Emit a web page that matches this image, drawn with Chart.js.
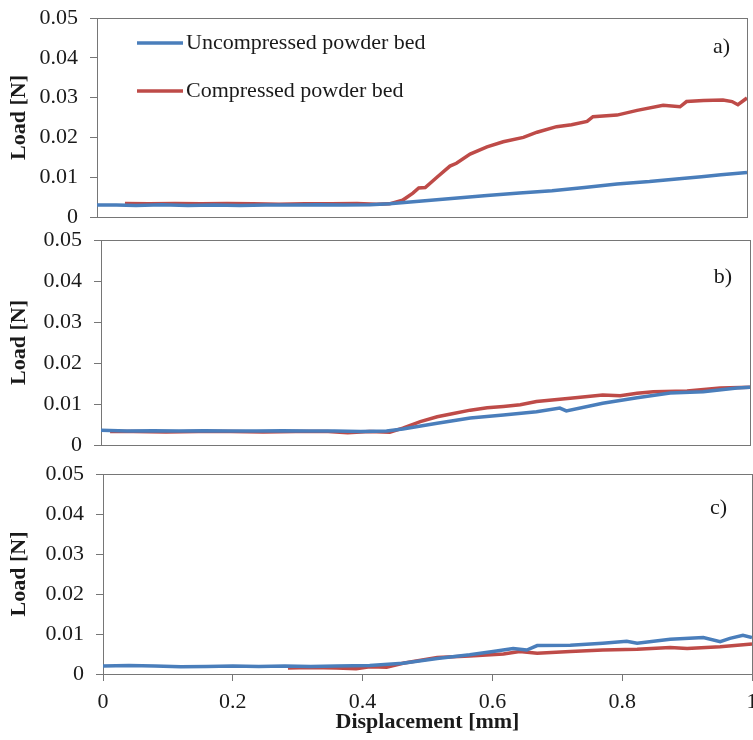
<!DOCTYPE html>
<html>
<head>
<meta charset="utf-8">
<script src="https://cdn.jsdelivr.net/npm/chart.js@4/dist/chart.umd.min.js"></script>
<style>
  body { margin: 0; background: #fff; }
  #wrap { position: relative; width: 753px; height: 740px; overflow: hidden; }
  canvas { position: absolute; left: 0; }
</style>
</head>
<body>
<div id="wrap">
  <canvas id="chartA" width="753" height="232" style="top:0px"></canvas>
  <canvas id="chartB" width="753" height="236" style="top:226px"></canvas>
  <canvas id="chartC" width="753" height="280" style="top:460px"></canvas>
</div>
<script>
// Datos (desplazamiento en mm, carga en N)
const seriesNames = ['Uncompressed powder bed', 'Compressed powder bed'];
const panelLabels = ['a)', 'b)', 'c)'];
const xTicks = [0, 0.2, 0.4, 0.6, 0.8, 1];
const xTickLabels = ['0', '0.2', '0.4', '0.6', '0.8', '1'];
const yTicks = [0, 0.01, 0.02, 0.03, 0.04, 0.05];
const yTickLabels = ['0', '0.01', '0.02', '0.03', '0.04', '0.05'];

// a)
const dispA_unc = [0, 0.03, 0.06, 0.1, 0.14, 0.18, 0.22, 0.26, 0.3, 0.34, 0.38, 0.42, 0.45, 0.5, 0.55, 0.6, 0.65, 0.7, 0.75, 0.8, 0.85, 0.9, 0.93, 0.96, 1.0];
const loadA_unc = [0.0030, 0.0030, 0.0029, 0.0031, 0.0029, 0.0030, 0.0029, 0.0030, 0.0030, 0.0031, 0.0030, 0.0031, 0.0033, 0.0040, 0.0047, 0.0054, 0.0060, 0.0066, 0.0074, 0.0083, 0.0089, 0.0097, 0.0101, 0.0106, 0.0112];
const dispA_comp = [0.043, 0.08, 0.12, 0.16, 0.2, 0.24, 0.28, 0.32, 0.36, 0.4, 0.43, 0.45, 0.47, 0.486, 0.495, 0.505, 0.523, 0.543, 0.553, 0.574, 0.6, 0.625, 0.656, 0.677, 0.707, 0.73, 0.754, 0.763, 0.8, 0.831, 0.871, 0.897, 0.907, 0.933, 0.963, 0.977, 0.986, 1.0];
const loadA_comp = [0.0034, 0.0033, 0.0034, 0.0033, 0.0034, 0.0033, 0.0032, 0.0033, 0.0033, 0.0034, 0.0032, 0.0033, 0.0042, 0.0060, 0.0073, 0.0074, 0.0100, 0.0128, 0.0135, 0.0158, 0.0176, 0.0189, 0.0200, 0.0213, 0.0227, 0.0232, 0.0240, 0.0252, 0.0256, 0.0268, 0.0281, 0.0277, 0.0290, 0.0293, 0.0294, 0.0290, 0.0282, 0.0299];

// b)
const dispB_unc = [0, 0.04, 0.08, 0.12, 0.16, 0.2, 0.24, 0.28, 0.32, 0.36, 0.4, 0.44, 0.465, 0.518, 0.569, 0.62, 0.671, 0.707, 0.717, 0.773, 0.826, 0.877, 0.928, 0.98, 1.0];
const loadB_unc = [0.0036, 0.0034, 0.0035, 0.0034, 0.0035, 0.0034, 0.0034, 0.0035, 0.0034, 0.0034, 0.0033, 0.0034, 0.0039, 0.0053, 0.0066, 0.0073, 0.0081, 0.0090, 0.0083, 0.0102, 0.0115, 0.0127, 0.0130, 0.0139, 0.0141];
const dispB_comp = [0.014, 0.05, 0.1, 0.15, 0.2, 0.25, 0.3, 0.35, 0.38, 0.414, 0.445, 0.465, 0.492, 0.518, 0.543, 0.569, 0.595, 0.62, 0.646, 0.671, 0.723, 0.773, 0.8, 0.826, 0.851, 0.903, 0.954, 1.0];
const loadB_comp = [0.0033, 0.0033, 0.0032, 0.0033, 0.0033, 0.0032, 0.0033, 0.0033, 0.0030, 0.0033, 0.0031, 0.0041, 0.0057, 0.0069, 0.0077, 0.0085, 0.0091, 0.0094, 0.0098, 0.0106, 0.0114, 0.0122, 0.0120, 0.0126, 0.0130, 0.0132, 0.0139, 0.0141];

// c)
const dispC_unc = [0, 0.04, 0.08, 0.12, 0.16, 0.2, 0.24, 0.28, 0.32, 0.36, 0.411, 0.462, 0.515, 0.565, 0.601, 0.632, 0.653, 0.669, 0.72, 0.77, 0.807, 0.823, 0.874, 0.925, 0.951, 0.966, 0.986, 1.0];
const loadC_unc = [0.0020, 0.0021, 0.0020, 0.0018, 0.0019, 0.0020, 0.0019, 0.0020, 0.0019, 0.0020, 0.0021, 0.0027, 0.0039, 0.0048, 0.0056, 0.0064, 0.0060, 0.0071, 0.0072, 0.0077, 0.0082, 0.0077, 0.0087, 0.0091, 0.0081, 0.0089, 0.0097, 0.0091];
const dispC_comp = [0.285, 0.32, 0.36, 0.39, 0.411, 0.437, 0.462, 0.515, 0.565, 0.617, 0.642, 0.669, 0.72, 0.77, 0.823, 0.874, 0.9, 0.951, 1.0];
const loadC_comp = [0.0015, 0.0016, 0.0015, 0.0013, 0.0018, 0.0017, 0.0027, 0.0041, 0.0045, 0.0050, 0.0056, 0.0052, 0.0056, 0.0060, 0.0062, 0.0066, 0.0064, 0.0068, 0.0075];

const BLUE = '#4A7EBB';
const RED = '#BE4B48';
const FRAME = '#767676';
const SERIF = '"Liberation Serif", "Times New Roman", serif';

Chart.defaults.font.family = SERIF;
Chart.defaults.color = '#1a1a1a';

function toPoints(xs, ys) {
    return xs.map((x, i) => ({ x: x, y: ys[i] }));
}

// marco, etiqueta del panel y leyenda dentro del area
const panelDecor = {
    id: 'panelDecor',
    beforeDatasetsDraw(chart, args, opts) {
        const a = chart.chartArea;
        const ctx = chart.ctx;
        ctx.save();
        ctx.strokeStyle = FRAME;
        ctx.lineWidth = 1;
        ctx.strokeRect(Math.round(a.left) + 0.5, Math.round(a.top) + 0.5,
            Math.round(a.right - a.left), Math.round(a.bottom - a.top));
        ctx.restore();
    },
    afterDatasetsDraw(chart, args, opts) {
        const a = chart.chartArea;
        const ctx = chart.ctx;
        ctx.save();
        ctx.fillStyle = '#1a1a1a';
        ctx.font = '22px ' + SERIF;
        ctx.textAlign = 'right';
        ctx.textBaseline = 'middle';
        ctx.fillText(opts.label, a.right - opts.labelRight, a.top + opts.labelY);
        if (opts.legend) {
            chart.data.datasets.forEach((ds, i) => {
                const y = a.top + 25 + i * 48;
                ctx.strokeStyle = ds.borderColor;
                ctx.lineWidth = 3.5;
                ctx.beginPath();
                ctx.moveTo(a.left + 40, y);
                ctx.lineTo(a.left + 86, y);
                ctx.stroke();
                ctx.textAlign = 'left';
                ctx.fillText(ds.label, a.left + 89, y);
            });
        }
        ctx.restore();
    }
};

function makePanel(id, unc, comp, cfg) {
    const ctx = document.getElementById(id).getContext('2d');
    return new Chart(ctx, {
        type: 'line',
        data: {
            datasets: [{
                label: seriesNames[0],
                data: unc,
                borderColor: BLUE,
                borderWidth: 3.5,
                pointRadius: 0
            }, {
                label: seriesNames[1],
                data: comp,
                borderColor: RED,
                borderWidth: 3.5,
                pointRadius: 0
            }]
        },
        options: {
            responsive: false,
            animation: false,
            devicePixelRatio: 1,
            layout: { autoPadding: false, padding: cfg.padding },
            plugins: {
                legend: { display: false },
                tooltip: { enabled: false },
                panelDecor: cfg.decor
            },
            scales: {
                x: {
                    type: 'linear',
                    min: 0,
                    max: 1,
                    display: cfg.showX,
                    afterBuildTicks: s => { s.ticks = xTicks.map(v => ({ value: v })); },
                    afterFit: s => {
                        if (cfg.showX) s.height = 66;
                        s.paddingLeft = 0;
                        s.paddingRight = 0;
                    },
                    ticks: {
                        font: { size: 22 },
                        padding: 8,
                        maxRotation: 0,
                        autoSkip: false,
                        callback: (v, i) => xTickLabels[i]
                    },
                    grid: { drawOnChartArea: false, tickLength: 7, color: FRAME },
                    border: { display: false },
                    title: {
                        display: true,
                        text: 'Displacement [mm]',
                        font: { size: 22, weight: 'bold' },
                        padding: { top: 0, bottom: 4 }
                    }
                },
                y: {
                    min: 0,
                    max: 0.05,
                    afterBuildTicks: s => { s.ticks = yTicks.map(v => ({ value: v })); },
                    afterFit: s => {
                        s.width = cfg.left;
                        s.paddingTop = 0;
                        s.paddingBottom = 0;
                    },
                    ticks: {
                        font: { size: 22 },
                        padding: 12,
                        autoSkip: false,
                        callback: (v, i) => yTickLabels[i]
                    },
                    grid: { drawOnChartArea: false, tickLength: 7, color: FRAME },
                    border: { display: false },
                    title: {
                        display: true,
                        text: 'Load [N]',
                        font: { size: 22, weight: 'bold' },
                        padding: { top: 6, bottom: 0 }
                    }
                }
            }
        },
        plugins: [panelDecor]
    });
}

makePanel('chartA', toPoints(dispA_unc, loadA_unc), toPoints(dispA_comp, loadA_comp), {
    left: 97, showX: false,
    padding: { top: 18, bottom: 15, left: 0, right: 6 },
    decor: { label: panelLabels[0], labelRight: 17, labelY: 29, legend: true }
});
makePanel('chartB', toPoints(dispB_unc, loadB_unc), toPoints(dispB_comp, loadB_comp), {
    left: 101, showX: false,
    padding: { top: 14, bottom: 17, left: 0, right: 3 },
    decor: { label: panelLabels[1], labelRight: 18, labelY: 37, legend: false }
});
makePanel('chartC', toPoints(dispC_unc, loadC_unc), toPoints(dispC_comp, loadC_comp), {
    left: 103, showX: true,
    padding: { top: 14, bottom: 0, left: 0, right: 1 },
    decor: { label: panelLabels[2], labelRight: 25, labelY: 34, legend: false }
});
</script>
</body>
</html>
